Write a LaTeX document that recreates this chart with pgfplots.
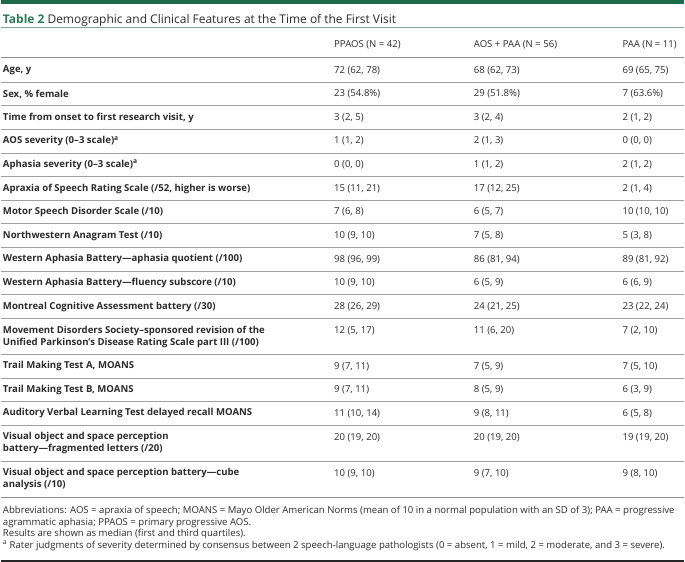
\documentclass[border=0pt]{standalone}
\usepackage{pgfplots}
\pgfplotsset{compat=1.18}
\usepackage{fontspec}
\setmainfont{Open Sans}
\definecolor{tgreen}{HTML}{1E6B4C}
\definecolor{tgreen2}{HTML}{2A7A58}
\definecolor{txt}{HTML}{2B2B2B}
\definecolor{rule}{HTML}{A0A0A0}
\newcommand{\bfs}{\fontsize{9.6bp}{12bp}\selectfont}
\newcommand{\rowA}[5]{%
  \node[anchor=west,font=\bfs\bfseries,text=txt,inner sep=0pt] at (axis cs:2,#1) {#2};
  \node[anchor=west,font=\bfs,text=txt,inner sep=0pt] at (axis cs:334,#1) {#3};
  \node[anchor=west,font=\bfs,text=txt,inner sep=0pt] at (axis cs:474,#1) {#4};
  \node[anchor=west,font=\bfs,text=txt,inner sep=0pt] at (axis cs:623,#1) {#5};
}
\newcommand{\rowB}[6]{%
  \node[anchor=north west,align=left,font=\bfs\bfseries,text=txt,inner sep=0pt] at (axis cs:2,#1-5) {#2\\#3};
  \node[anchor=west,font=\bfs,text=txt,inner sep=0pt] at (axis cs:334,#1) {#4};
  \node[anchor=west,font=\bfs,text=txt,inner sep=0pt] at (axis cs:474,#1) {#5};
  \node[anchor=west,font=\bfs,text=txt,inner sep=0pt] at (axis cs:623,#1) {#6};
}
\begin{document}
\begin{tikzpicture}
\begin{axis}[scale only axis, width=685bp, height=564bp,
  xmin=0, xmax=685, ymin=0, ymax=564, y dir=reverse,
  axis lines=none, clip=false]
% top green bar
\addplot[fill=tgreen, draw=none] coordinates {(0,0) (685,0) (685,3.8) (0,3.8)} -- cycle;
% title
\node[anchor=west,inner sep=0pt,font=\fontsize{12bp}{14bp}\selectfont] at (axis cs:2,20) {\textcolor{tgreen2}{\bfseries Table 2}\ \textcolor{txt}{Demographic and Clinical Features at the Time of the First Visit}};
\addplot[color=tgreen2!55!gray!70, line width=0.6bp] coordinates {(0,27.5) (685,27.5)};
% header
\node[anchor=west,inner sep=0pt,font=\bfs,text=txt] at (axis cs:334,45) {PPAOS (N = 42)};
\node[anchor=west,inner sep=0pt,font=\bfs,text=txt] at (axis cs:474,45) {AOS + PAA (N = 56)};
\node[anchor=west,inner sep=0pt,font=\bfs,text=txt] at (axis cs:623,45) {PAA (N = 11)};
\addplot[color=gray!90, line width=1.2bp] coordinates {(0,58) (685,58)};
% rows
\rowA{70.5}{Age, y}{72 (62, 78)}{68 (62, 73)}{69 (65, 75)}
\addplot[color=rule, line width=1bp] coordinates {(0,82.3) (685,82.3)};
\rowA{94.2}{Sex, \% female}{23 (54.8\%)}{29 (51.8\%)}{7 (63.6\%)}
\addplot[color=rule, line width=1bp] coordinates {(0,106) (685,106)};
\rowA{117.9}{Time from onset to first research visit, y}{3 (2, 5)}{3 (2, 4)}{2 (1, 2)}
\addplot[color=rule, line width=1bp] coordinates {(0,129.7) (685,129.7)};
\rowA{141.6}{AOS severity (0–3 scale)\textsuperscript{a}}{1 (1, 2)}{2 (1, 3)}{0 (0, 0)}
\addplot[color=rule, line width=1bp] coordinates {(0,153.4) (685,153.4)};
\rowA{165.3}{Aphasia severity (0–3 scale)\textsuperscript{a}}{0 (0, 0)}{1 (1, 2)}{2 (1, 2)}
\addplot[color=rule, line width=1bp] coordinates {(0,177.1) (685,177.1)};
\rowA{189}{Apraxia of Speech Rating Scale (/52, higher is worse)}{15 (11, 21)}{17 (12, 25)}{2 (1, 4)}
\addplot[color=rule, line width=1bp] coordinates {(0,200.8) (685,200.8)};
\rowA{212.7}{Motor Speech Disorder Scale (/10)}{7 (6, 8)}{6 (5, 7)}{10 (10, 10)}
\addplot[color=rule, line width=1bp] coordinates {(0,224.5) (685,224.5)};
\rowA{236.4}{Northwestern Anagram Test (/10)}{10 (9, 10)}{7 (5, 8)}{5 (3, 8)}
\addplot[color=rule, line width=1bp] coordinates {(0,248.2) (685,248.2)};
\rowA{260.1}{Western Aphasia Battery—aphasia quotient (/100)}{98 (96, 99)}{86 (81, 94)}{89 (81, 92)}
\addplot[color=rule, line width=1bp] coordinates {(0,271.9) (685,271.9)};
\rowA{283.8}{Western Aphasia Battery—fluency subscore (/10)}{10 (9, 10)}{6 (5, 9)}{6 (6, 9)}
\addplot[color=rule, line width=1bp] coordinates {(0,295.6) (685,295.6)};
\rowA{307.5}{Montreal Cognitive Assessment battery (/30)}{28 (26, 29)}{24 (21, 25)}{23 (22, 24)}
\addplot[color=rule, line width=1bp] coordinates {(0,319.3) (685,319.3)};
\rowB{331.5}{Movement Disorders Society–sponsored revision of the}{Unified Parkinson’s Disease Rating Scale part III (/100)}{12 (5, 17)}{11 (6, 20)}{7 (2, 10)}
\addplot[color=rule, line width=1bp] coordinates {(0,355.4) (685,355.4)};
\rowA{367.2}{Trail Making Test A, MOANS}{9 (7, 11)}{7 (5, 9)}{7 (5, 10)}
\addplot[color=rule, line width=1bp] coordinates {(0,379) (685,379)};
\rowA{390.8}{Trail Making Test B, MOANS}{9 (7, 11)}{8 (5, 9)}{6 (3, 9)}
\addplot[color=rule, line width=1bp] coordinates {(0,402.6) (685,402.6)};
\rowA{414.4}{Auditory Verbal Learning Test delayed recall MOANS}{11 (10, 14)}{9 (8, 11)}{6 (5, 8)}
\addplot[color=rule, line width=1bp] coordinates {(0,426.2) (685,426.2)};
\rowB{438.4}{Visual object and space perception}{battery—fragmented letters (/20)}{20 (19, 20)}{20 (19, 20)}{19 (19, 20)}
\addplot[color=rule, line width=1bp] coordinates {(0,462.4) (685,462.4)};
\rowB{474.6}{Visual object and space perception battery—cube}{analysis (/10)}{10 (9, 10)}{9 (7, 10)}{9 (8, 10)}
\addplot[color=gray!90, line width=1.2bp] coordinates {(0,498.8) (685,498.8)};
% footnotes
\node[anchor=north west,align=left,inner sep=0pt,text=txt,font=\fontsize{9.6bp}{11.6bp}\selectfont] at (axis cs:2,507.5) {Abbreviations: AOS = apraxia of speech; MOANS = Mayo Older American Norms (mean of 10 in a normal population with an SD of 3); PAA = progressive\\agrammatic aphasia; PPAOS = primary progressive AOS.\\Results are shown as median (first and third quartiles).\\\textsuperscript{a} Rater judgments of severity determined by consensus between 2 speech-language pathologists (0 = absent, 1 = mild, 2 = moderate, and 3 = severe).};
\addplot[color=black!85, line width=1.6bp] coordinates {(0,562.5) (685,562.5)};
\end{axis}
\end{tikzpicture}
\end{document}
